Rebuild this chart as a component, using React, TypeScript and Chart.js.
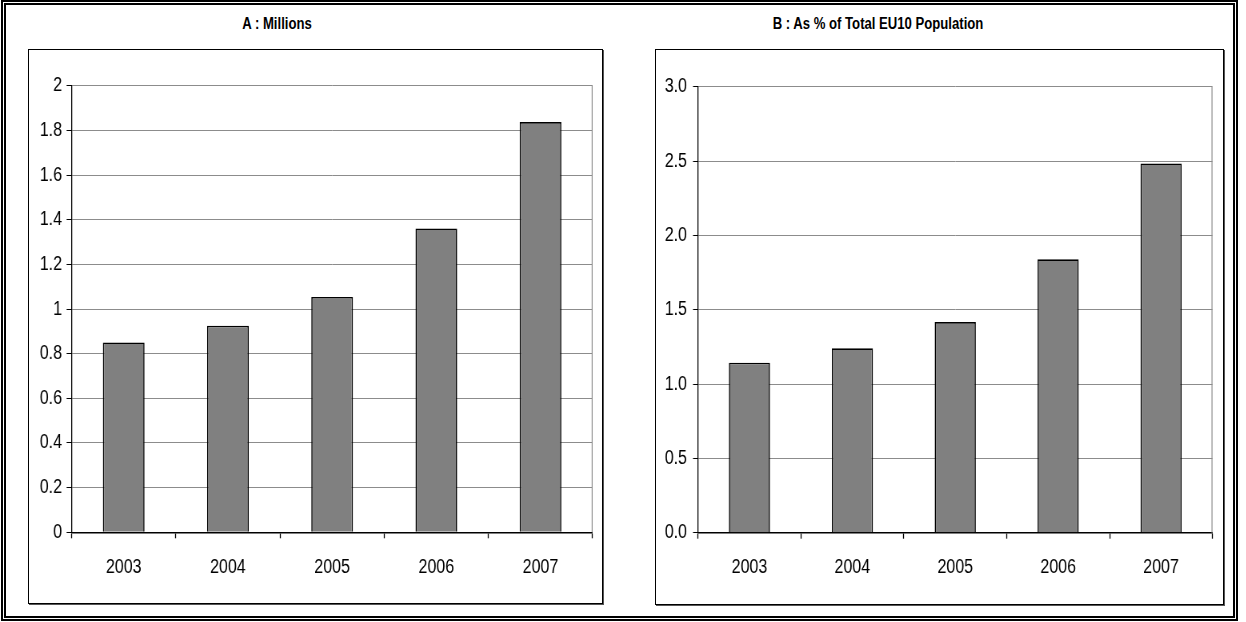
import React, { useEffect, useRef } from "react";
import { Chart, registerables } from "chart.js";

Chart.register(...registerables);

const years = ["2003", "2004", "2005", "2006", "2007"];
const millions = [0.85, 0.925, 1.054, 1.361, 1.837];
const percentOfEU10 = [1.143, 1.24, 1.417, 1.839, 2.484];

const titleA = "A : Millions";
const titleB = "B : As % of Total EU10 Population";

const FONT = "'Liberation Sans', Arial, sans-serif";
// horizontal squeeze to imitate the narrow typeface of the original
const SQUEEZE = 0.8;

type PanelProps = {
  values: number[];
  max: number;
  step: number;
  decimals: boolean;
  box: { left: number; top: number; width: number; height: number };
  yWidth: number;
  xHeight: number;
  padTop: number;
  padRight: number;
  yPad: number;
};

function Panel(p: PanelProps) {
  const ref = useRef<HTMLCanvasElement | null>(null);
  const W = Math.round(p.box.width / SQUEEZE);
  const sx = p.box.width / W;
  useEffect(() => {
    if (!ref.current) return;
    const framePlugin = {
      id: "frame",
      afterDraw(chart: any) {
        const ctx = chart.ctx;
        const a = chart.chartArea;
        ctx.save();
        ctx.strokeStyle = "#8c8c8c";
        ctx.lineWidth = 1.2;
        ctx.beginPath();
        ctx.moveTo(a.right - 0.6, a.top);
        ctx.lineTo(a.right - 0.6, a.bottom);
        ctx.stroke();
        ctx.restore();
      },
    };
    const chart = new Chart(ref.current, {
      type: "bar",
      data: {
        labels: years,
        datasets: [
          {
            data: p.values,
            backgroundColor: "#808080",
            borderColor: "#000",
            borderWidth: 1.6,
            barPercentage: 0.4,
            categoryPercentage: 1,
          },
        ],
      },
      options: {
        animation: false,
        responsive: false,
        devicePixelRatio: 1,
        layout: { padding: { left: 0, right: p.padRight / sx, top: p.padTop, bottom: 0 } },
        plugins: { legend: { display: false }, tooltip: { enabled: false }, title: { display: false } },
        scales: {
          x: {
            grid: {
              display: true,
              offset: true,
              drawOnChartArea: false,
              drawTicks: true,
              tickLength: 6,
              tickColor: "#000",
              tickWidth: 1.3,
            },
            border: { display: true, color: "#000", width: 1.5 },
            ticks: { color: "#000", font: { family: FONT, size: 20 }, padding: 17, maxRotation: 0 },
            afterFit(scale: any) {
              scale.height = p.xHeight;
            },
          },
          y: {
            min: 0,
            max: p.max,
            grid: {
              color: "#8c8c8c",
              lineWidth: 1,
              drawTicks: true,
              tickLength: 5 / sx,
              tickColor: "#000",
            },
            border: { display: true, color: "#000", width: 1.3 },
            ticks: {
              stepSize: p.step,
              color: "#000",
              padding: p.yPad / sx,
              font: { family: FONT, size: 20 },
              callback: (v: any) =>
                p.decimals ? Number(v).toFixed(1) : String(Number(Number(v).toFixed(1))),
            },
            afterFit(scale: any) {
              scale.width = p.yWidth / sx;
            },
          },
        },
      },
      plugins: [framePlugin],
    } as any);
    return () => chart.destroy();
  }, []);
  return (
    <>
      <canvas
        ref={ref}
        width={W}
        height={p.box.height}
        style={{
          position: "absolute",
          left: p.box.left,
          top: p.box.top,
          width: p.box.width,
          height: p.box.height,
        }}
      />
      <div
        style={{
          position: "absolute",
          left: p.box.left,
          top: p.box.top,
          width: p.box.width - 2,
          height: p.box.height - 2,
          border: "1px solid #000",
          boxShadow: "1px 1px 0 #555",
          pointerEvents: "none",
        }}
      />
    </>
  );
}

export default function App() {
  const titleStyle: React.CSSProperties = {
    position: "absolute",
    top: 14,
    fontFamily: FONT,
    fontWeight: "bold",
    fontSize: 16,
    lineHeight: "20px",
    color: "#000",
    whiteSpace: "nowrap",
    transform: `translateX(-50%) scaleX(0.82)`,
  };
  return (
    <div
      style={{
        position: "fixed",
        left: 0,
        top: 0,
        width: 1246,
        height: 622,
        background: "#fff",
        overflow: "hidden",
      }}
    >
      <div
        style={{
          position: "absolute",
          left: 1,
          top: 0,
          width: 1238 - 1 - 10,
          height: 621 - 10,
          border: "5px double #000",
        }}
      />
      <div style={{ ...titleStyle, left: 277 }}>{titleA}</div>
      <div style={{ ...titleStyle, left: 878 }}>{titleB}</div>
      <Panel
        values={millions}
        max={2}
        step={0.2}
        decimals={false}
        box={{ left: 28, top: 49, width: 575, height: 555 }}
        yWidth={43.6}
        xHeight={71.7}
        padTop={36.7}
        padRight={10.4}
        yPad={4.6}
      />
      <Panel
        values={percentOfEU10}
        max={3}
        step={0.5}
        decimals={true}
        box={{ left: 655, top: 49, width: 569, height: 556 }}
        yWidth={43}
        xHeight={72.3}
        padTop={37.7}
        padRight={11.5}
        yPad={6}
      />
    </div>
  );
}
